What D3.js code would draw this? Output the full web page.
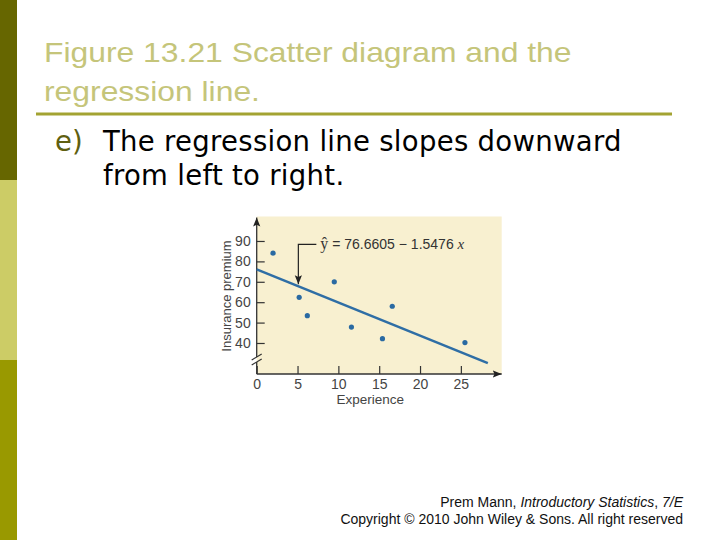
<!DOCTYPE html>
<html>
<head>
  <style type="text/css">
    body { margin: 0; background: #fff; }
    svg { display: block; font-family: "Liberation Sans", Arial, sans-serif; }
  </style>
</head>
<body>
  <svg width="720" height="540" id="slide"></svg>
  <script src="https://d3js.org/d3.v7.min.js"></script>
  <script>

// values
let experience = [2, 5.2, 6.2, 9.5, 11.6, 15.4, 16.6, 25.5]
let premium    = [84, 62.4, 53.4, 70, 47.8, 42.1, 58, 40.2]
let lineX = [0, 28.3]
let lineY = [76.1, 30.1]
let xTicks = [0, 5, 10, 15, 20, 25]
let yTicks = [40, 50, 60, 70, 80, 90]
let calloutX = 5.1
let equation = '76.6605 \u2212 1.5476'

let svg = d3.select('#slide')

// side bar
let bands = ['#666600', '#cccc66', '#999900']
svg.selectAll('rect.band').data(bands).enter().append('rect')
  .attr('x', 0).attr('y', (d, i) => i * 180)
  .attr('width', 17).attr('height', 180)
  .attr('fill', d => d)

// title (the slide font runs wide, so stretch it a little)
let title = svg.append('text')
  .attr('transform', 'translate(44,0) scale(1.18,1)')
  .attr('fill', '#c5c57a').attr('font-size', 27)
title.append('tspan').attr('x', 0).attr('y', 62).text('Figure 13.21 Scatter diagram and the')
title.append('tspan').attr('x', 0).attr('y', 101).text('regression line.')

svg.append('line')
  .attr('x1', 36).attr('x2', 672).attr('y1', 114).attr('y2', 114)
  .attr('stroke', '#a3a332').attr('stroke-width', 3)

svg.append('text').attr('x', 55).attr('y', 151)
  .attr('font-family', 'DejaVu Sans, Verdana, sans-serif')
  .attr('fill', '#5f5f10').attr('font-size', 27.5).text('e)')
let body = svg.append('text').attr('font-size', 27.5).attr('fill', '#000')
  .attr('font-family', 'DejaVu Sans, Verdana, sans-serif')
  .attr('letter-spacing', 0.3)
body.append('tspan').attr('x', 103).attr('y', 151).text('The regression line slopes downward')
body.append('tspan').attr('x', 103).attr('y', 185).text('from left to right.')

// footer
let foot = svg.append('text').attr('font-size', 14).attr('fill', '#111')
  .attr('text-anchor', 'end')
let f1 = foot.append('tspan').attr('x', 683).attr('y', 507)
f1.append('tspan').text('Prem Mann, ')
f1.append('tspan').attr('font-style', 'italic').text('Introductory Statistics')
f1.append('tspan').text(', ')
f1.append('tspan').attr('font-style', 'italic').text('7/E')
foot.append('tspan').attr('x', 683).attr('y', 524)
  .text('Copyright \u00a9 2010 John Wiley & Sons. All right reserved')

// chart
let plotL = 256.7, plotR = 501.7, plotT = 216.5, plotB = 374
let x = d3.scaleLinear().domain([0, 30]).range([plotL, plotR])
let y = d3.scaleLinear().domain([24.8, 102]).range([plotB, plotT])
let ink = '#333'

let chart = svg.append('g').attr('font-family', 'Liberation Sans, Arial, sans-serif')

chart.append('rect')
  .attr('x', plotL).attr('y', plotT)
  .attr('width', plotR - plotL).attr('height', plotB - plotT)
  .attr('fill', '#f8f0d0')

let defs = svg.append('defs')
defs.append('marker').attr('id', 'head')
  .attr('viewBox', '0 0 10 10').attr('refX', 10).attr('refY', 5)
  .attr('markerWidth', 9).attr('markerHeight', 9).attr('markerUnits', 'userSpaceOnUse')
  .attr('orient', 'auto')
  .append('path').attr('d', 'M0,1 L10,5 L0,9 L2,5 Z').attr('fill', '#222')

let xAxis = d3.axisBottom(x).tickValues(xTicks).tickSize(-8).tickPadding(5)
let xg = chart.append('g').attr('transform', 'translate(0,' + plotB + ')').call(xAxis)
let yAxis = d3.axisLeft(y).tickValues(yTicks).tickSize(-8).tickPadding(6)
let yg = chart.append('g').attr('transform', 'translate(' + plotL + ',0)').call(yAxis)

;[xg, yg].forEach(g => {
  g.select('.domain').remove()
  g.selectAll('.tick line').attr('stroke', ink).attr('stroke-width', 1.2)
  g.selectAll('.tick text').attr('fill', '#444').attr('font-size', 14)
    .attr('font-family', 'Liberation Sans, Arial, sans-serif')
})

// axis lines with arrow heads and a break on y
chart.append('line')
  .attr('x1', plotL).attr('x2', plotR).attr('y1', plotB).attr('y2', plotB)
  .attr('stroke', ink).attr('stroke-width', 1.3).attr('marker-end', 'url(#head)')
chart.append('line')
  .attr('x1', plotL).attr('x2', plotL).attr('y1', 357).attr('y2', plotT + 1)
  .attr('stroke', ink).attr('stroke-width', 1.3).attr('marker-end', 'url(#head)')
chart.append('line')
  .attr('x1', plotL).attr('x2', plotL).attr('y1', plotB).attr('y2', 362)
  .attr('stroke', ink).attr('stroke-width', 1.3)
;[357, 362].forEach(v => {
  chart.append('line')
    .attr('x1', plotL - 5).attr('x2', plotL + 5).attr('y1', v + 3).attr('y2', v - 3)
    .attr('stroke', ink).attr('stroke-width', 1.2)
})

chart.append('text')
  .attr('transform', 'translate(231,296) rotate(-90)')
  .attr('text-anchor', 'middle').attr('font-size', 13).attr('fill', '#444')
  .text('Insurance premium')
chart.append('text')
  .attr('x', x(13.9)).attr('y', 404)
  .attr('text-anchor', 'middle').attr('font-size', 13.5).attr('fill', '#444')
  .text('Experience')

// regression line
let pts = lineX.map((d, i) => [d, lineY[i]])
chart.append('path')
  .datum(pts)
  .attr('d', d3.line().x(d => x(d[0])).y(d => y(d[1])))
  .attr('stroke', '#2f6ea5').attr('stroke-width', 2.5).attr('fill', 'none')

chart.selectAll('circle').data(experience).enter().append('circle')
  .attr('cx', d => x(d))
  .attr('cy', (d, i) => y(premium[i]))
  .attr('r', 2.6)
  .attr('fill', '#2a6aa2')

// callout for the equation
let lineAt = v => lineY[0] + (lineY[1] - lineY[0]) * (v - lineX[0]) / (lineX[1] - lineX[0])
let cx = x(calloutX), cy = 244.3
chart.append('path')
  .attr('d', 'M' + (cx + 18) + ',' + cy + 'H' + cx + 'V' + (y(lineAt(calloutX)) - 2))
  .attr('stroke', '#222').attr('stroke-width', 1.2).attr('fill', 'none')
  .attr('marker-end', 'url(#head)')

let eq = chart.append('text').attr('x', cx + 22).attr('y', 248.5)
  .attr('font-size', 14).attr('fill', '#333')
eq.append('tspan').attr('font-family', 'Liberation Serif, serif').attr('font-size', 16).text('\u0177')
eq.append('tspan').text(' = ' + equation + ' ')
eq.append('tspan').attr('font-family', 'Liberation Serif, serif').attr('font-style', 'italic')
  .attr('font-size', 15).text('x')

  </script>
</body>
</html>
